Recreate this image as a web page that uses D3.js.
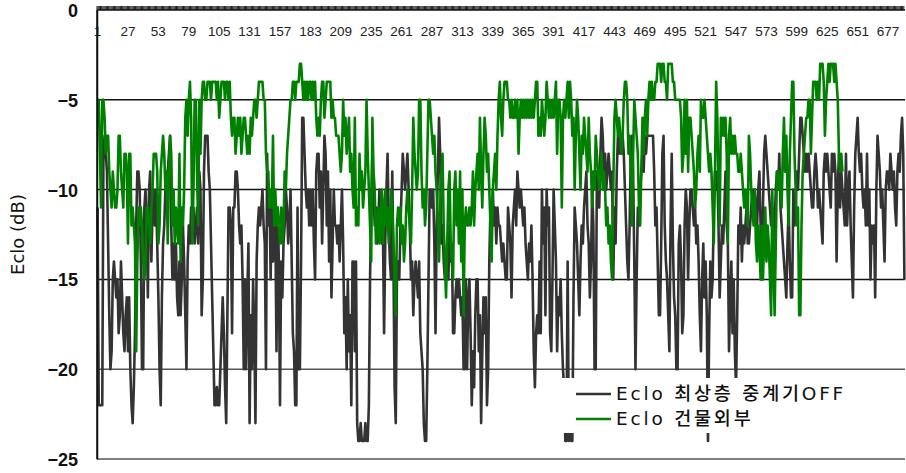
<!DOCTYPE html>
<html>
<head>
<meta charset="utf-8">
<script src="https://cdn.jsdelivr.net/npm/d3@7"></script>
<style>
  body { margin: 0; background: #fff; }
  svg { display: block; }
  .ylab { font-family: "Liberation Sans", Arial, sans-serif; font-size: 18px; font-weight: bold; fill: #111; }
  .ytitle { font-family: "DejaVu Sans", sans-serif; font-size: 18px; fill: #111; }
  .xlab { font-family: "Liberation Sans", Arial, sans-serif; font-size: 13.5px; fill: #222; }
  .legend text { font-family: "DejaVu Sans", "Noto Sans CJK KR", sans-serif; font-size: 18.5px; font-weight: 500; fill: #111; letter-spacing: 2.8px; }
</style>
</head>
<body>
<div id="chart"></div>
<script>
// Eclo 최상층 중계기OFF (dB)
var darkValues = [
  -11,-22,-22,-22,-22,-8,-7,-8,-9,-13,-17,-20,-19,-15,-14,-15,-16,-15,-18,-17,-14,-16,-18,-19,-17,-16,-19,-16,-20,-22,-23,-21,
  -18,-12,-9,-9,-10,-14,-20,-20,-11,-10,-12,-16,-10,-9,-14,-11,-10,-12,-10,-13,-16,-20,-22,-16,-13,-12,-10,-11,-9,-8,-7,
  -12,-15,-13,-15,-13,-16,-17,-14,-17,-15,-12,-14,-17,-20,-14,-12,-13,-11,-12,-11,-13,-12,-11,-13,-9,-10,-17,-15,-9,-7,-7,
  -7,-9,-10,-13,-16,-19,-22,-22,-21,-22,-22,-20,-18,-16,-18,-21,-23,-17,-11,-11,-12,-18,-11,-11,-9,-9,-10,-12,-13,-12,-15,-20,
  -15,-20,-16,-13,-23,-17,-20,-15,-18,-23,-14,-12,-11,-12,-11,-10,-12,-13,-20,-8,-12,-10,-15,-10,-14,-10,-12,-19,-11,-14,-22,
  -14,-16,-13,-12,-10,-11,-13,-12,-10,-14,-18,-19,-22,-22,-11,-20,-20,-14,-6,-6,-8,-10,-11,-10,-12,-10,-12,-10,-13,-15,-9,-8,
  -8,-11,-9,-13,-10,-7,-8,-12,-9,-14,-10,-16,-13,-10,-12,-12,-13,-12,-14,-12,-10,-13,-18,-16,-20,-15,-19,-17,-22,-14,-14,-19,
  -14,-23,-24,-24,-23,-24,-24,-24,-23,-24,-24,-22,-15,-11,-8,-10,-12,-11,-13,-12,-10,-11,-13,-12,-18,-13,-10,-8,-12,-14,-15,
  -9,-14,-21,-23,-15,-14,-15,-12,-10,-8,-9,-10,-9,-8,-10,-12,-15,-14,-17,-15,-14,-15,-16,-14,-18,-19,-20,-23,-24,-24,-20,
  -15,-10,-10,-11,-10,-13,-18,-12,-9,-6,-8,-13,-12,-14,-15,-14,-13,-15,-12,-14,-13,-18,-18,-16,-15,-16,-15,-16,-17,-16,-20,-20,
  -15,-20,-16,-15,-18,-22,-19,-21,-17,-15,-15,-19,-17,-23,-19,-16,-18,-16,-22,-20,-14,-11,-12,-10,-12,-11,-13,-11,-12,-12,
  -13,-14,-13,-14,-15,-15,-11,-12,-13,-16,-12,-11,-10,-12,-9,-10,-11,-10,-11,-12,-11,-13,-14,-15,-13,-14,-12,-15,-19,-21,-18,-17,-18,
  -14,-18,-10,-13,-11,-17,-10,-12,-11,-18,-19,-15,-10,-12,-14,-19,-16,-17,-15,-18,-20,-21,-24,-24,-14,-24,-23,-24,-24,-16,-11,
  -12,-13,-15,-17,-14,-12,-13,-11,-10,-9,-12,-13,-16,-14,-10,-12,-20,-20,-9,-10,-11,-8,-6,-7,-9,-8,-10,-9,-8,-9,-10,-9,
  -15,-11,-13,-9,-7,-8,-7,-8,-7,-8,-10,-12,-14,-15,-12,-8,-7,-9,-14,-20,-15,-11,-12,-10,-9,-8,-9,-7,-8,-7,-7,-7,
  -7,-7,-7,-9,-12,-11,-14,-17,-17,-13,-8,-7,-12,-14,-15,-17,-19,-12,-8,-13,-16,-17,-20,-20,-13,-12,-14,-18,-17,-12,-10,
  -11,-15,-12,-10,-10,-11,-12,-11,-13,-12,-14,-17,-19,-15,-13,-16,-14,-17,-24,-18,-14,-16,-15,-11,-9,-10,-9,-12,-16,-14,-12,
  -13,-11,-9,-12,-13,-19,-16,-14,-18,-15,-19,-21,-17,-12,-13,-11,-14,-12,-13,-12,-11,-13,-13,-12,-11,-10,-11,-10,-11,-12,-10,-9,
  -12,-15,-11,-8,-7,-8,-9,-10,-11,-12,-11,-13,-12,-10,-9,-10,-8,-11,-12,-13,-14,-15,-16,-13,-11,-14,-16,-16,-10,-12,-11,-9,
  -10,-8,-6,-6,-7,-8,-9,-8,-9,-8,-9,-10,-11,-11,-9,-8,-9,-11,-10,-11,-12,-13,-9,-8,-9,-8,-9,-10,-11,-8,-9,-8,
  -9,-14,-10,-8,-11,-9,-10,-11,-12,-8,-12,-10,-9,-12,-14,-16,-11,-8,-7,-6,-8,-9,-8,-10,-11,-10,-12,-8,-12,-10,
  -15,-12,-13,-12,-16,-10,-7,-8,-9,-11,-10,-12,-14,-10,-9,-9,-10,-8,-9,-10,-9,-11,-12,-9,-8,-9,-7,-6,-8,-15
];

// Eclo 건물외부 (dB)
var greenValues = [
  -5,-5,-8,-11,-5,-5,-6,-8,-7,-7,-9,-10,-11,-9,-10,-11,-11,-10,-7,-7,-9,-10,-11,-8,-8,-9,-13,-8,-8,-12,-11,-12,
  -13,-19,-14,-11,-12,-11,-12,-14,-15,-14,-11,-11,-12,-13,-11,-10,-8,-8,-8,-9,-13,-12,-9,-8,-7,-8,-10,-9,-13,-9,-7,
  -8,-12,-10,-13,-11,-12,-13,-8,-14,-11,-12,-10,-6,-5,-7,-5,-4,-6,-13,-10,-5,-5,-9,-12,-5,-8,-5,-4,-4,-5,-5,-4,
  -4,-4,-5,-4,-4,-4,-4,-5,-4,-6,-5,-4,-4,-4,-5,-4,-4,-5,-4,-6,-7,-6,-6,-8,-7,-6,-7,-6,-8,-7,-6,
  -6,-7,-8,-7,-8,-6,-7,-6,-5,-5,-6,-5,-4,-4,-4,-4,-5,-5,-8,-9,-9,-11,-10,-11,-7,-12,-10,-12,-11,-12,-13,-11,
  -13,-12,-9,-10,-8,-7,-6,-5,-5,-4,-4,-5,-4,-4,-4,-3,-3,-4,-5,-4,-5,-4,-5,-4,-4,-5,-4,-5,-4,-6,-7,
  -6,-7,-5,-4,-4,-6,-5,-4,-4,-4,-4,-6,-5,-6,-6,-7,-7,-7,-8,-9,-8,-5,-7,-6,-8,-7,-6,-9,-8,-10,-11,-6,
  -12,-11,-12,-8,-10,-9,-11,-10,-9,-5,-8,-10,-12,-14,-6,-9,-10,-13,-12,-11,-13,-12,-10,-13,-11,-10,-12,-11,-13,-12,-10,
  -11,-13,-15,-17,-12,-11,-12,-11,-13,-12,-14,-13,-11,-10,-11,-12,-13,-10,-6,-8,-9,-10,-9,-5,-5,-9,-11,-10,-12,-11,-8,-5,
  -5,-6,-7,-8,-7,-9,-10,-12,-14,-11,-9,-8,-12,-14,-16,-13,-10,-9,-13,-14,-15,-10,-9,-12,-10,-13,-9,-14,-10,-17,-12,
  -11,-12,-12,-11,-12,-11,-9,-12,-10,-9,-8,-10,-6,-9,-11,-8,-6,-7,-9,-8,-10,-12,-14,-10,-9,-8,-10,-7,-5,-4,-6,-7,
  -5,-4,-4,-4,-5,-5,-6,-5,-6,-6,-5,-6,-5,-8,-6,-5,-6,-5,-6,-5,-6,-5,-6,-5,-6,-5,-6,-5,-4,-4,-7,
  -6,-7,-5,-6,-7,-6,-4,-5,-6,-5,-6,-5,-6,-5,-4,-8,-5,-5,-6,-11,-6,-5,-6,-5,-4,-6,-4,-5,-7,-6,-10,-7,
  -5,-6,-8,-10,-7,-8,-6,-7,-8,-9,-6,-8,-9,-11,-9,-10,-7,-8,-9,-10,-9,-8,-10,-9,-10,-12,-11,-13,-12,-14,-15,
  -10,-6,-5,-6,-7,-6,-7,-8,-7,-5,-4,-4,-5,-8,-7,-9,-12,-8,-5,-6,-7,-8,-11,-12,-9,-6,-8,-6,-5,-7,-5,-4,
  -5,-4,-5,-5,-4,-4,-3,-3,-3,-4,-3,-3,-4,-4,-5,-3,-3,-3,-3,-4,-4,-5,-5,-5,-5,-5,-6,-9,-8,-5,-8,
  -5,-9,-6,-6,-7,-8,-9,-11,-10,-8,-7,-9,-5,-6,-6,-5,-6,-7,-8,-9,-8,-9,-11,-13,-9,-4,-6,-10,-12,-6,-7,-6,
  -7,-6,-8,-13,-7,-6,-8,-7,-8,-7,-8,-8,-9,-9,-8,-9,-10,-11,-10,-11,-12,-7,-8,-10,-11,-12,-10,-13,-14,-12,-13,-15,
  -12,-15,-13,-11,-14,-12,-13,-15,-17,-10,-14,-17,-13,-9,-10,-9,-10,-11,-8,-6,-9,-7,-10,-12,-8,-6,-4,-4,-8,-10,-12,-11,
  -17,-17,-12,-9,-8,-7,-6,-6,-5,-5,-8,-6,-4,-4,-4,-5,-4,-5,-3,-3,-3,-4,-7,-5,-4,-3,-4,-3,-3,-3,-4,-3,
  -4,-5,-8,-9,-8,-9
];

var categories = d3.range(1, darkValues.length + 1);
var xTickLabels = [1, 27, 53, 79, 105, 131, 157, 183, 209, 235, 261, 287, 313, 339, 365, 391, 417, 443, 469, 495, 521, 547, 573, 599, 625, 651, 677];
var yTicks = [0, -5, -10, -15, -20, -25];
var seriesNames = ["Eclo 최상층 중계기OFF", "Eclo 건물외부"];
var seriesColors = ["#333333", "#008000"];

var W = 906, H = 473;
var plot = {left: 97, right: 905, top: 10, bottom: 459};

var svg = d3.select('#chart').append('svg')
    .attr('width', W)
    .attr('height', H);

var x = d3.scaleBand()
    .domain(categories)
    .range([plot.left, plot.right]);
var y = d3.scaleLinear()
    .domain([-25, 0])
    .range([plot.bottom, plot.top]);
var cx = function(i) { return x(i) + x.bandwidth() / 2; };

// horizontal grid lines
svg.append('g')
    .selectAll('line')
    .data(yTicks.filter(d => d < 0))
    .enter().append('line')
    .attr('x1', plot.left)
    .attr('x2', plot.right)
    .attr('y1', d => y(d))
    .attr('y2', d => y(d))
    .attr('stroke', d => d <= -20 ? '#555' : '#111')
    .attr('stroke-width', 1.5);

// series
var line = d3.line()
    .x((d, i) => cx(i + 1))
    .y(d => y(d));

[darkValues, greenValues].forEach(function(vals, k) {
    svg.append('path')
        .datum(vals)
        .attr('fill', 'none')
        .attr('stroke', seriesColors[k])
        .attr('stroke-width', 2.6)
        .attr('stroke-linejoin', 'round')
        .attr('d', line);
});

// y axis
var yAxis = svg.append('g')
    .attr('transform', 'translate(' + plot.left + ',0)')
    .call(d3.axisLeft(y).tickValues(yTicks).tickSize(0).tickPadding(19).tickFormat(d3.format('d')));
yAxis.select('.domain').attr('stroke', '#111').attr('stroke-width', 1.5);
yAxis.selectAll('text').attr('class', 'ylab').attr('dy', '0.36em');

svg.append('text')
    .attr('class', 'ytitle')
    .attr('text-anchor', 'middle')
    .attr('transform', 'translate(24,' + ((plot.top + plot.bottom) / 2) + ') rotate(-90)')
    .text('Eclo (dB)');

// top category axis: one tick per category, labels every 26
var xAxis = svg.append('g')
    .attr('transform', 'translate(0,' + plot.top + ')');
xAxis.append('g')
    .selectAll('line')
    .data(categories)
    .enter().append('line')
    .attr('x1', d => x(d))
    .attr('x2', d => x(d))
    .attr('y1', -4)
    .attr('y2', 0)
    .attr('stroke', '#000')
    .attr('stroke-width', 0.9);
xAxis.append('line')
    .attr('x1', plot.left)
    .attr('x2', plot.right)
    .attr('stroke', '#111')
    .attr('stroke-width', 1.5);
xAxis.append('g')
    .selectAll('text')
    .data(xTickLabels)
    .enter().append('text')
    .attr('class', 'xlab')
    .attr('x', d => cx(d))
    .attr('y', 26)
    .attr('text-anchor', 'middle')
    .text(d => d);

// redraw y axis line on top of the first label
svg.append('line')
    .attr('x1', plot.left).attr('x2', plot.left)
    .attr('y1', plot.top).attr('y2', plot.bottom)
    .attr('stroke', '#111').attr('stroke-width', 1.5);

// legend
var legend = svg.append('g').attr('class', 'legend');
legend.append('rect')
    .attr('x', 560)
    .attr('y', 378)
    .attr('width', 298)
    .attr('height', 55)
    .attr('fill', '#fff');
var entry = legend.selectAll('.entry')
    .data(seriesNames)
    .enter().append('g')
    .attr('class', 'entry')
    .attr('transform', (d, i) => 'translate(0,' + (394 + i * 25) + ')');
entry.append('line')
    .attr('x1', 576)
    .attr('x2', 611)
    .attr('stroke', (d, i) => seriesColors[i])
    .attr('stroke-width', 2.6);
entry.append('text')
    .attr('x', 616)
    .attr('y', 0)
    .attr('dy', '0.35em')
    .text(d => d);
</script>
</body>
</html>
